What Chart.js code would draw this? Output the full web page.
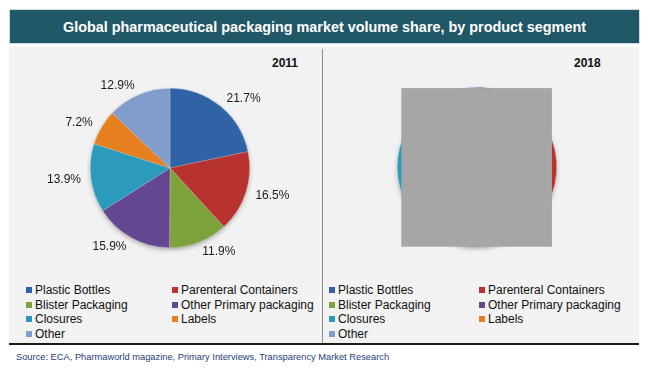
<!DOCTYPE html>
<html>
<head>
<meta charset="utf-8">
<script src="https://cdn.jsdelivr.net/npm/chart.js@4.4.0/dist/chart.umd.min.js"></script>
<style>
  body { margin: 0; background: #fff; font-family: Arial, "Liberation Sans", sans-serif; }
  #wrap { position: relative; width: 650px; height: 370px; }
  #title { position: absolute; left: 9px; top: 9px; width: 631px; height: 35px; background: #215867;
           border: 1px solid #d0dde0; box-sizing: border-box; color: #fff; font-weight: bold; font-size: 14.4px;
           line-height: 34px; text-align: center; }
  #panel { position: absolute; left: 9px; top: 47px; width: 630px; height: 296px; background: #f2f2f2; }
  #divider { position: absolute; left: 322px; top: 49px; width: 1px; height: 294px; background: #8c8c8c; }
  #baseline { position: absolute; left: 9px; top: 343px; width: 630px; height: 2px; background: #1a1a1a; }
  .year { position: absolute; top: 56px; font-size: 12px; font-weight: bold; color: #111; }
  canvas { position: absolute; }
  .legend { position: absolute; top: 283px; font-size: 12px; color: #111; }
  .legend div { position: absolute; white-space: nowrap; height: 14px; line-height: 14px; }
  .legend span { display: inline-block; width: 6px; height: 6px; margin-right: 3px; vertical-align: 1px; }
  #source { position: absolute; left: 16px; top: 352px; font-size: 9.3px; color: #1f3d78; }
</style>
</head>
<body>
<div id="wrap">
  <div id="title">Global pharmaceutical packaging market volume share, by product segment</div>
  <div id="panel"></div>
  <div id="divider"></div>
  <div id="baseline"></div>
  <div class="year" style="left:272px">2011</div>
  <div class="year" style="left:574px">2018</div>
  <canvas id="pie2011" width="313" height="220" style="left:9px;top:46px;width:313px;height:220px"></canvas>
  <canvas id="pie2018" width="313" height="220" style="left:326px;top:46px;width:313px;height:220px"></canvas>
  <div class="legend" id="legend2011" style="left:26px"></div>
  <div class="legend" id="legend2018" style="left:329px"></div>
  <div id="source">Source: ECA, Pharmaworld magazine, Primary Interviews, Transparency Market Research</div>
</div>
<script>
const segments = ['Plastic Bottles', 'Parenteral Containers', 'Blister Packaging', 'Other Primary packaging', 'Closures', 'Labels', 'Other'];
const share2011 = [21.7, 16.5, 11.9, 15.9, 13.9, 7.2, 12.9];
// 2018 values are hidden under the grey box in the original, rough guess
const share2018 = [19.2, 18.3, 12.4, 15.1, 16.0, 6.8, 12.2];
const segmentColors = ['#2f63a6', '#b8322f', '#7ea23b', '#634790', '#2a9bbd', '#e57f20', '#819dcc'];

// soft shadow under the pie
const pieShadow = {
  id: 'pieShadow',
  beforeDatasetsDraw(chart) {
    const arc = chart.getDatasetMeta(0).data[0];
    if (!arc) return;
    const ctx = chart.ctx;
    ctx.save();
    ctx.shadowColor = 'rgba(0,0,0,0.35)';
    ctx.shadowBlur = 5;
    ctx.shadowOffsetY = 2;
    ctx.fillStyle = '#999';
    ctx.beginPath();
    ctx.arc(arc.x, arc.y, arc.outerRadius - 0.5, 0, Math.PI * 2);
    ctx.fill();
    ctx.restore();
  }
};

// percentage labels outside each slice
const outsideLabels = {
  id: 'outsideLabels',
  afterDatasetsDraw(chart, args, opts) {
    if (!opts.show) return;
    const ctx = chart.ctx;
    const meta = chart.getDatasetMeta(0);
    const values = chart.data.datasets[0].data;
    ctx.save();
    ctx.font = '12px Arial, "Liberation Sans", sans-serif';
    ctx.fillStyle = '#1a1a1a';
    ctx.textBaseline = 'middle';
    meta.data.forEach((arc, i) => {
      const mid = (arc.startAngle + arc.endAngle) / 2;
      const r = arc.outerRadius + 10;
      const x = arc.x + Math.cos(mid) * r;
      const y = arc.y + Math.sin(mid) * r;
      ctx.textAlign = x >= arc.x ? 'left' : 'right';
      ctx.fillText(values[i].toFixed(1) + '%', x, y);
    });
    ctx.restore();
  }
};

// grey box that covers the 2018 pie in the original
const coverBox = {
  id: 'coverBox',
  afterDatasetsDraw(chart, args, opts) {
    if (!opts.show) return;
    const arc = chart.getDatasetMeta(0).data[0];
    const r = arc.outerRadius;
    const ctx = chart.ctx;
    ctx.save();
    ctx.fillStyle = '#a6a6a6';
    ctx.fillRect(arc.x - r * 0.95, arc.y - r * 0.99, r * 1.89, r * 1.99);
    ctx.restore();
  }
};

function makePie(id, values, padding, labels, cover) {
  return new Chart(document.getElementById(id), {
    type: 'pie',
    data: {
      labels: segments,
      datasets: [{
        data: values,
        backgroundColor: segmentColors,
        borderColor: 'rgba(255,255,255,0.35)',
        borderWidth: 0.6
      }]
    },
    options: {
      responsive: false,
      animation: false,
      layout: { padding: padding },
      plugins: {
        legend: { display: false },
        tooltip: { enabled: false },
        outsideLabels: { show: labels },
        coverBox: { show: cover }
      }
    },
    plugins: [pieShadow, outsideLabels, coverBox]
  });
}

function buildLegend(chart, el, colX) {
  const items = chart.options.plugins.legend.labels.generateLabels(chart);
  items.forEach((item, i) => {
    const d = document.createElement('div');
    d.style.left = colX[i % 2] + 'px';
    d.style.top = (Math.floor(i / 2) * 14.5) + 'px';
    d.innerHTML = '<span style="background:' + item.fillStyle + '"></span>' + item.text;
    el.appendChild(d);
  });
}

const chart2011 = makePie('pie2011', share2011, { left: 81, right: 72, top: 42, bottom: 18 }, true, false);
const chart2018 = makePie('pie2018', share2018, { left: 71, right: 82, top: 41, bottom: 19 }, false, true);
buildLegend(chart2011, document.getElementById('legend2011'), [0, 146]);
buildLegend(chart2018, document.getElementById('legend2018'), [0, 150]);
</script>
</body>
</html>
